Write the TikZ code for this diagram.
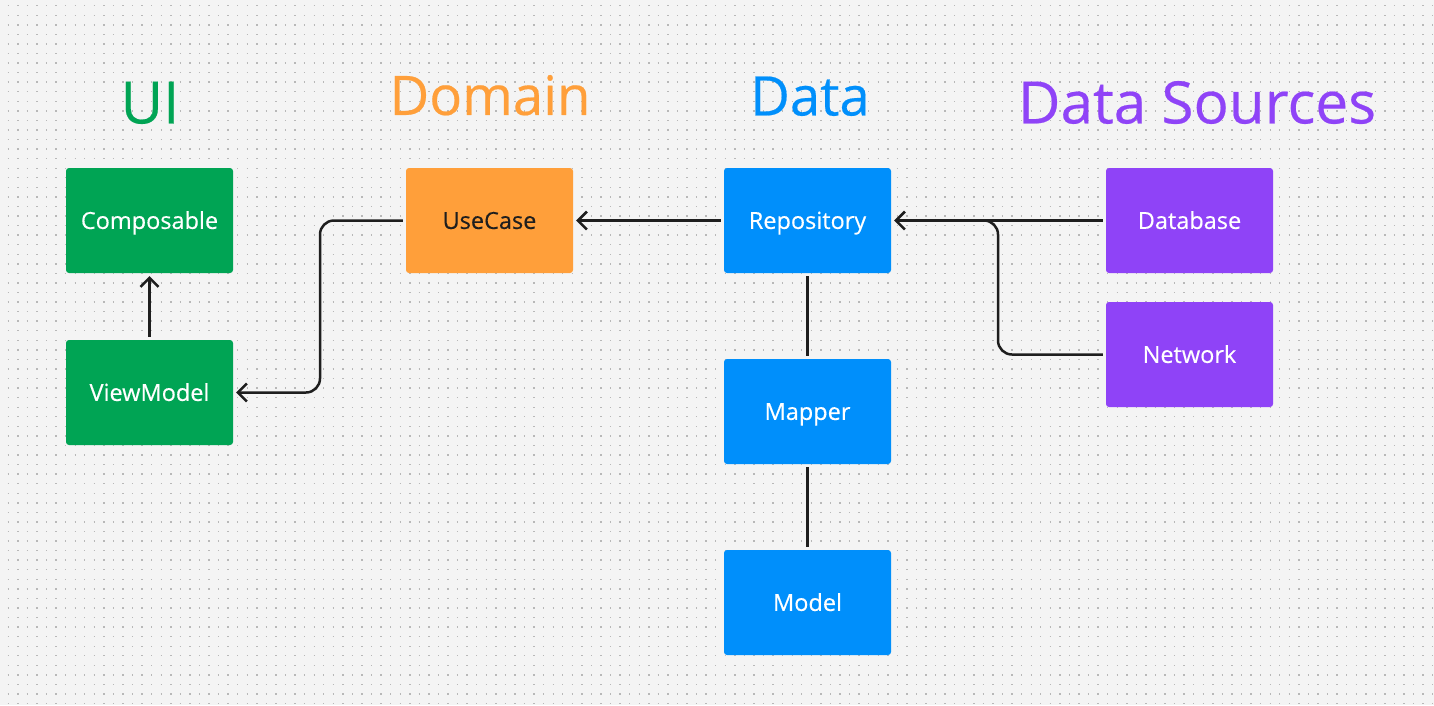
\documentclass[tikz,border=0pt]{standalone}
\usepackage{fontspec}
\setmainfont{Open Sans}
\newfontfamily\medfont[FakeBold=0.35]{Open Sans}
\usetikzlibrary{arrows.meta}
\definecolor{bgc}{HTML}{F4F4F4}
\definecolor{dotc}{HTML}{B8B8B8}
\definecolor{uigreen}{HTML}{00A454}
\definecolor{domorange}{HTML}{FF9F3A}
\definecolor{datablue}{HTML}{008FFB}
\definecolor{srcpurple}{HTML}{8F43F7}
\definecolor{linec}{HTML}{1E1E1E}
\definecolor{darktext}{HTML}{1E1E1E}
\tikzset{
  box/.style={minimum width=167pt, minimum height=105pt, rounded corners=3pt, inner sep=0pt,
    text height=16.8pt, text depth=0pt, font=\medfont\fontsize{23.5}{28}\selectfont},
  uibox/.style={box, fill=uigreen, text=white},
  dombox/.style={box, fill=domorange, text=darktext},
  databox/.style={box, fill=datablue, text=white},
  srcbox/.style={box, fill=srcpurple, text=white},
  bigtitle/.style={inner sep=0pt, text height=41.8pt, text depth=0pt, font=\medfont\fontsize{58.5}{70}\selectfont},
  smalltitle/.style={inner sep=0pt, text height=38.9pt, text depth=0pt, font=\medfont\fontsize{54.5}{66}\selectfont},
  conn/.style={draw=linec, line width=2.5pt, rounded corners=14pt},
  arr/.style={conn, -{Straight Barb[length=9pt,width=18pt]}, shorten >=3pt, shorten <=3pt},
  plain/.style={conn, shorten >=3pt, shorten <=3pt}
}
\begin{document}
\begin{tikzpicture}[x=1pt,y=-1pt]
\fill[bgc] (0,0) rectangle (1434,705);
\useasboundingbox (0,0) rectangle (1434,705);
\foreach \i in {0,...,73}{
  \draw[dotc, line width=1.4pt, dash pattern=on 1.4pt off 8.16pt] (7.6,5.7+9.56*\i) -- (1434,5.7+9.56*\i);
}
% titles
\node[bigtitle, text=uigreen] (tui) at (150,102.5) {UI};
\node[smalltitle, text=domorange] (tdom) at (490,95.5) {Domain};
\node[smalltitle, text=datablue] (tdata) at (810,96) {Data};
\node[bigtitle, text=srcpurple] (tsrc) at (1197,102.5) {Data Sources};
% boxes
\node[uibox] (comp) at (149.5,220.5) {Composable};
\node[uibox] (vm) at (149.5,392.5) {ViewModel};
\node[dombox] (uc) at (489.5,220.5) {UseCase};
\node[databox] (repo) at (807.5,220.5) {Repository};
\node[databox] (map) at (807.5,411.5) {Mapper};
\node[databox] (model) at (807.5,602.5) {Model};
\node[srcbox] (db) at (1189.5,220.5) {Database};
\node[srcbox] (net) at (1189.5,354.5) {Network};
% connectors
\coordinate (ucx) at (320,220.5);
\coordinate (vmx) at (320,392.5);
\coordinate (netx) at (998,354.5);
\coordinate (netup) at (998,220.5);
\coordinate (netl) at (960,220.5);
\draw[arr] (vm) -- (comp);
\draw[arr] (uc.west) -- (ucx) -- (vmx) -- (vm.east);
\draw[arr] (repo.west) -- (uc.east);
\draw[arr] (db.west) -- (repo.east);
\draw[conn, shorten <=3pt] (net.west) -- (netx) -- (netup) -- (netl);
\draw[plain] (repo) -- (map);
\draw[plain] (map) -- (model);
\end{tikzpicture}
\end{document}
